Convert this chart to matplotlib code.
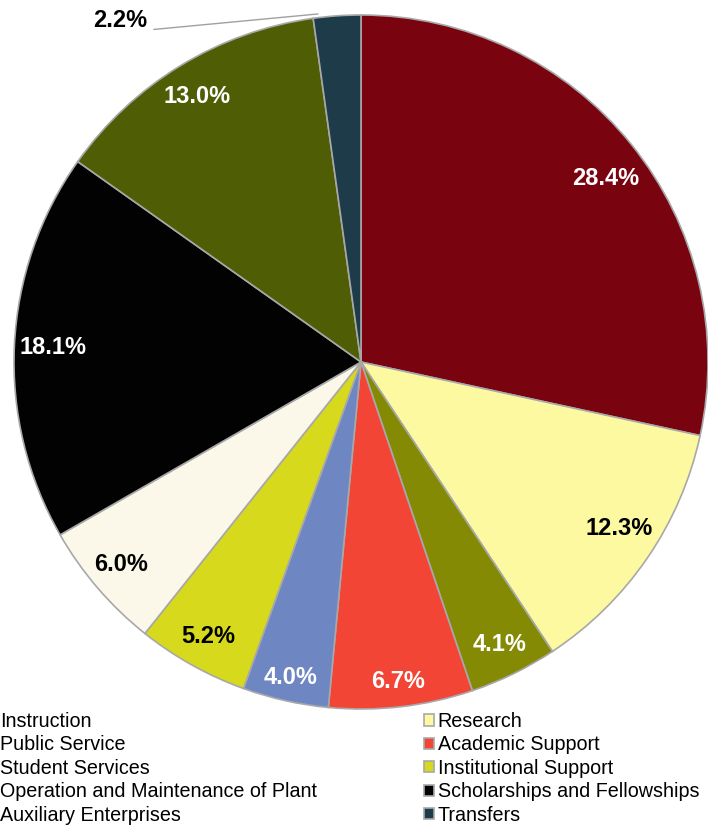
import matplotlib
matplotlib.use("Agg")
import matplotlib.pyplot as plt
import numpy as np

plt.rcParams['font.family'] = ['Liberation Sans', 'DejaVu Sans']

categories = ["Instruction", "Research", "Public Service", "Academic Support",
              "Student Services", "Institutional Support",
              "Operation and Maintenance of Plant", "Scholarships and Fellowships",
              "Auxiliary Enterprises", "Transfers"]
values = [28.4, 12.3, 4.1, 6.7, 4.0, 5.2, 6.0, 18.1, 13.0, 2.2]
colors = ["#7A0310", "#FCF9A0", "#858A05", "#F24536", "#6E86C2", "#D6D91C",
          "#FBF8EA", "#020202", "#4F5E05", "#1E3B4A"]
label_colors = ["white", "black", "white", "white", "white", "black",
                "black", "white", "white", "black"]
# label placement: fraction of radius and angular nudge (degrees)
label_dist = [0.883, 0.884, 0.908, 0.928, 0.933, 0.906, 0.905, 0.888, 0.90, 0.9]
label_nudge = [-2.0, 1.6, 0, 0, 0, 0, -0.5, 0, 0.4, 0]

W, H = 708, 825
fig = plt.figure(figsize=(W / 100, H / 100), dpi=100)
cx, cy, R = 361, 362, 347
ax = fig.add_axes([(cx - R) / W, 1 - (cy + R) / H, 2 * R / W, 2 * R / H])

wedges, texts, autotexts = ax.pie(
    values, colors=colors, startangle=90, counterclock=False,
    autopct='%1.1f%%', pctdistance=0.885,
    wedgeprops=dict(edgecolor="#a8a8a8", linewidth=1.2),
    textprops=dict(fontsize=17, fontweight='bold'))
ax.set_aspect('equal')
ax.set_xlim(-1, 1)
ax.set_ylim(-1, 1)

for w, t, c, d, n in zip(wedges, autotexts, label_colors, label_dist, label_nudge):
    a = np.deg2rad((w.theta1 + w.theta2) / 2 + n)
    t.set_color(c)
    t.set_position((d * np.cos(a), d * np.sin(a)))

# outside label for the last (small) slice
autotexts[-1].set_visible(False)
ax.annotate(autotexts[-1].get_text(), xy=(-0.124, 1.003),
            xytext=(-0.617, 0.983), fontsize=17, fontweight='bold', color='black',
            ha='right', va='center', annotation_clip=False,
            arrowprops=dict(arrowstyle='-', color='#a0a0a0', lw=1,
                            shrinkA=3, shrinkB=0, relpos=(1, 0.1)))

# legend: row-wise order in two columns
order = [0, 2, 4, 6, 8, 1, 3, 5, 7, 9]
leg = fig.legend([wedges[i] for i in order], [categories[i] for i in order],
                 ncol=2, loc='upper left', bbox_to_anchor=(-14 / W, 1 - 712 / H),
                 frameon=False, fontsize=14.2, handlelength=0.5, handleheight=0.5,
                 handletextpad=0.2, columnspacing=5.43, labelspacing=0.225,
                 borderpad=0, borderaxespad=0)

fig.savefig("out.png", dpi=100)
